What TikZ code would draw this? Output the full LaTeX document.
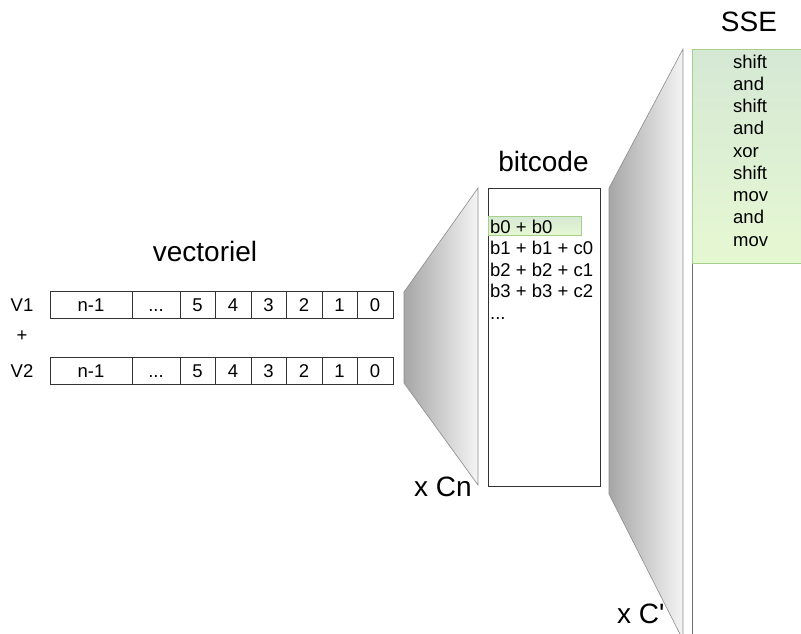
\documentclass[tikz,border=0pt]{standalone}
\usepackage{fontspec}
\setmainfont{Liberation Sans}
\definecolor{lensdark}{HTML}{A6A6A6}
\definecolor{lenslight}{HTML}{F4F4F4}
\definecolor{lensline}{HTML}{8C8C8C}
\definecolor{greentop}{HTML}{D5E8D4}
\definecolor{greenbot}{HTML}{E6F8D2}
\definecolor{greenline}{HTML}{A8D08D}
\definecolor{boxline}{HTML}{333333}
\tikzset{
  cell/.style={draw=boxline, line width=0.7pt, minimum height=27pt, inner sep=0pt,
    text height=13pt, text depth=0pt, font=\fontsize{18.5}{22}\selectfont},
  title/.style={anchor=base, inner sep=0pt, font=\fontsize{28}{33}\selectfont},
  small/.style={inner sep=0pt, font=\fontsize{18.5}{22}\selectfont},
  lens/.style={draw=lensline, line width=0.6pt, left color=lensdark, right color=lenslight},
}
\newcommand\vectorrow[2]{%
  \node[cell,minimum width=82pt] (#1a) at (91,#2) {n-1};
  \node[cell,minimum width=48pt] (#1b) at (156,#2) {...};
  \node[cell,minimum width=35pt] (#1c) at (197.5,#2) {5};
  \node[cell,minimum width=36pt] (#1d) at (233,#2) {4};
  \node[cell,minimum width=35pt] (#1e) at (268.5,#2) {3};
  \node[cell,minimum width=36pt] (#1f) at (304,#2) {2};
  \node[cell,minimum width=35pt] (#1g) at (339.5,#2) {1};
  \node[cell,minimum width=36pt] (#1h) at (375,#2) {0};
}
\begin{document}
\begin{tikzpicture}[x=1pt,y=-1pt]
\useasboundingbox (0,0) rectangle (801,633);
\clip (0,0) rectangle (801,633);

% titles
\node[title] (tvec) at (205,261) {vectoriel};
\node[title] (tbit) at (543.5,171) {bitcode};
\node[title] (tsse) at (749,31) {SSE};

% vector rows
\node[small, anchor=base] (lv1) at (22,311.5) {V1};
\node[small, anchor=base] (lplus) at (22,341) {+};
\node[small, anchor=base] (lv2) at (22,377.5) {V2};
\vectorrow{va}{304.5}
\vectorrow{vb}{370.5}

% first lens
\shadedraw[lens] (404,292) -- (478,188) -- (478,485) -- (404,383) -- cycle;

% bitcode box
\node[draw=boxline, line width=0.7pt, minimum width=112pt, minimum height=298pt, inner sep=0pt] (bitbox) at (544,337) {};
\node[draw=greenline, line width=0.7pt, top color=greentop, bottom color=greenbot,
      minimum width=93pt, minimum height=19pt, inner sep=0pt] (hl) at (534.5,225.5) {};
\node[small, anchor=base west] (b0) at (490,233) {b0 + b0};
\node[small, anchor=base west] (b1) at (490,254.5) {b1 + b1 + c0};
\node[small, anchor=base west] (b2) at (490,276) {b2 + b2 + c1};
\node[small, anchor=base west] (b3) at (490,297.5) {b3 + b3 + c2};
\node[small, anchor=base west] (b4) at (490,319) {...};

\node[title, anchor=base west] (xcn) at (414,496) {x Cn};

% second lens
\shadedraw[lens] (609,188) -- (683,49) -- (683,640) -- (609,494) -- cycle;

% SSE box
\node[draw=lensline!80!black, line width=0.7pt, anchor=north west, minimum width=130pt,
      minimum height=600pt, inner sep=0pt] (ssebox) at (692,49) {};
\node[draw=greenline, line width=0.7pt, top color=greentop, bottom color=greenbot, anchor=north west,
      minimum width=130pt, minimum height=214pt, inner sep=0pt] (ssegreen) at (692,49) {};
\foreach \t [count=\i from 0] in {shift,and,shift,and,xor,shift,mov,and,mov} {
  \node[small, anchor=base west] (s\i) at (733,{68+22.25*\i}) {\t};
}

\node[title, anchor=base west] (xcp) at (617,623) {x C\textquotesingle};
\end{tikzpicture}
\end{document}
